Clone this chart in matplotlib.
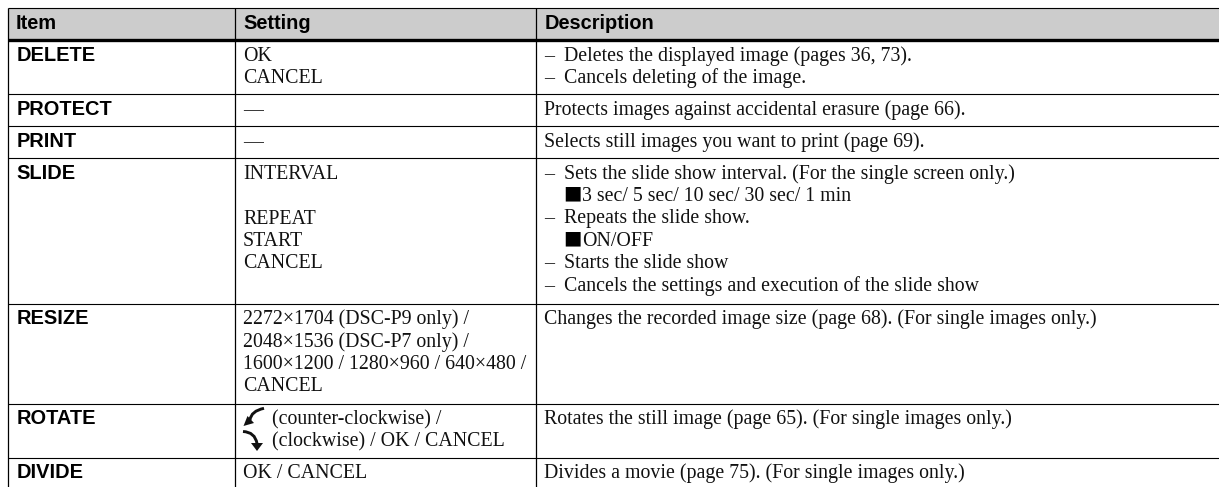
import matplotlib
matplotlib.use("Agg")
import matplotlib.pyplot as plt
from matplotlib.patches import Rectangle, PathPatch, Polygon
from matplotlib.path import Path

W, H = 1219, 487
SERIF = ['Liberation Serif', 'DejaVu Sans']
SANS = ['Liberation Sans', 'DejaVu Sans']

headers = ["Item", "Setting", "Description"]
items = ["DELETE", "PROTECT", "PRINT", "SLIDE", "RESIZE", "ROTATE", "DIVIDE"]
settings = [
    ["OK", "CANCEL"],
    ["—"],
    ["—"],
    ["INTERVAL", "", "REPEAT", "START", "CANCEL"],
    ["2272×1704 (DSC-P9 only) /", "2048×1536 (DSC-P7 only) /",
     "1600×1200 / 1280×960 / 640×480 /", "CANCEL"],
    ["(counter-clockwise) /", "(clockwise) / OK / CANCEL"],
    ["OK / CANCEL"],
]
descriptions = [
    ["– Deletes the displayed image (pages 36, 73).", "– Cancels deleting of the image."],
    ["Protects images against accidental erasure (page 66)."],
    ["Selects still images you want to print (page 69)."],
    ["– Sets the slide show interval. (For the single screen only.)",
     "■3 sec/ 5 sec/ 10 sec/ 30 sec/ 1 min",
     "– Repeats the slide show.",
     "■ON/OFF",
     "– Starts the slide show",
     "– Cancels the settings and execution of the slide show"],
    ["Changes the recorded image size (page 68). (For single images only.)"],
    ["Rotates the still image (page 65). (For single images only.)"],
    ["Divides a movie (page 75). (For single images only.)"],
]

# layout in pixels
col_x = [7.5, 234.5, 536]
right = W
top, head_bottom = 7.5, 39.5
row_bottoms = [94, 126, 158, 303.5, 403.5, 457.5, H]
line_h = 22.4
FS = 14.4
FS_SERIF = 14.3
INK = '#111111'

fig = plt.figure(figsize=(W / 100, H / 100), dpi=100)
ax = fig.add_axes([0, 0, 1, 1])
ax.set_xlim(0, W)
ax.set_ylim(H, 0)
ax.axis('off')

ax.add_patch(Rectangle((col_x[0], top), right - col_x[0], head_bottom - top,
                       fc='#cccccc', ec='none', zorder=0))
ax.plot([col_x[0], right], [top, top], color='k', lw=0.8, solid_capstyle='butt')
ax.plot([col_x[0], right], [head_bottom, head_bottom], color='k', lw=2.4, solid_capstyle='butt')
for yb in row_bottoms[:-1]:
    ax.plot([col_x[0], right], [yb, yb], color='k', lw=0.8, solid_capstyle='butt')
for x in col_x:
    ax.plot([x, x], [top, row_bottoms[-1]], color='k', lw=0.9, solid_capstyle='butt')

pad = 8.5
for x, h in zip(col_x, headers):
    ax.text(x + pad, 29.3, h, family=SANS, weight='bold', fontsize=FS,
            va='baseline', ha='left', color='k')

tops = [head_bottom + 0.7] + row_bottoms[:-1]
BASE = 20.7


def serif(x, y, s, **kw):
    ax.text(x, y, s, family=SERIF, fontsize=FS_SERIF, va='baseline', ha='left', color=INK, **kw)


def body(x, y, s):
    """Draw one description line; a leading dash or square hangs before the body."""
    if s.startswith("– "):
        serif(x, y, "–")
        serif(x + 19.5, y, s[2:])
    elif s.startswith("■"):
        ax.text(x + 19, y - 2.2, "■", family=['DejaVu Sans'], fontsize=14,
                va='baseline', ha='left', color='k')
        serif(x + 37.5, y, s[1:])
    else:
        serif(x, y, s)


for i, t in enumerate(tops):
    y0 = t + BASE
    ax.text(col_x[0] + pad + 0.5, y0, items[i], family=SANS, weight='bold',
            fontsize=FS, va='baseline', ha='left', color='k')
    for j, s in enumerate(settings[i]):
        off = 29.5 if items[i] == "ROTATE" else 0
        serif(col_x[1] + pad + off, y0 + j * line_h, s)
    for j, s in enumerate(descriptions[i]):
        body(col_x[2] + pad, y0 + j * line_h, s)

# rotate icons, relative to the top of the ROTATE row
rt = tops[items.index("ROTATE")]
shafts = [[(264, 4.8), (251, 7.5), (250, 16.5)], [(243, 28), (255, 28.5), (257, 40)]]
heads = [[(243.5, 22.5), (254, 19.5), (247.5, 12.5)], [(251, 39.5), (263, 39.5), (257, 47.5)]]
for sh, hd in zip(shafts, heads):
    ax.add_patch(PathPatch(Path([(x, rt + y) for x, y in sh],
                                [Path.MOVETO, Path.CURVE3, Path.CURVE3]),
                           fc='none', ec='#111111', lw=2.1))
    ax.add_patch(Polygon([(x, rt + y) for x, y in hd], fc='#111111', ec='none'))

fig.savefig('out.png', dpi=100)
